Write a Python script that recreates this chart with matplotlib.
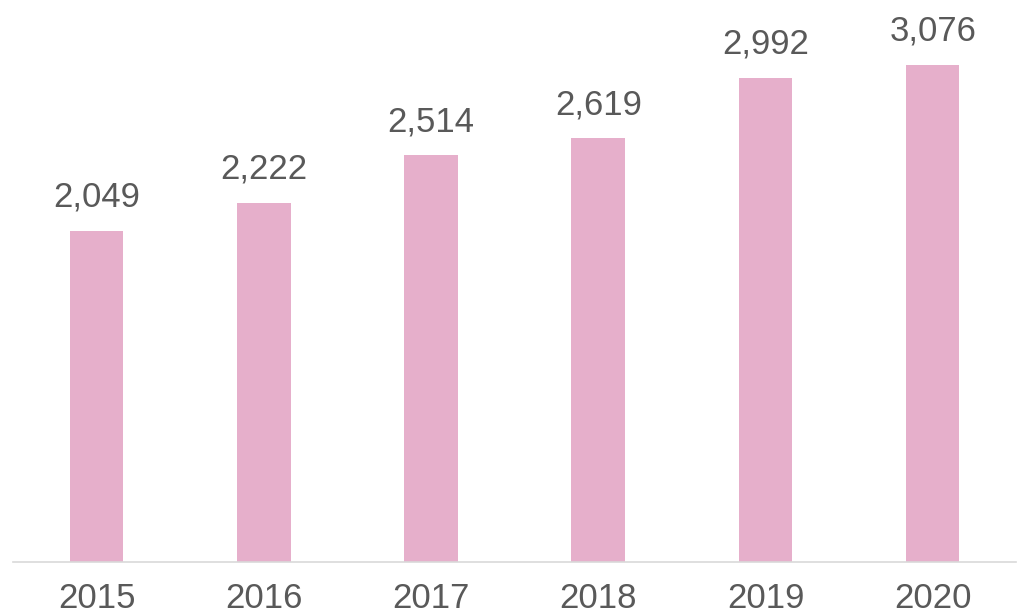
import matplotlib.pyplot as plt

# data
years = ['2015', '2016', '2017', '2018', '2019', '2020']
values = [2049, 2222, 2514, 2619, 2992, 3076]

plt.rcParams['font.family'] = ['Liberation Sans', 'DejaVu Sans']

fig = plt.figure(figsize=(10.28, 6.15), dpi=100)
ax = fig.add_axes([0.0126, 0.0862, 0.976, 0.9138])

x = range(len(years))
ax.bar(x, values, width=0.32, color='#E6AFCB')

for xi, v in zip(x, values):
    ax.annotate(f'{v:,}', (xi, v), xytext=(0, 17.5), textcoords='offset points',
                ha='center', va='baseline', fontsize=25, color='#595959')

ax.set_xlim(-0.5, 5.5)
ax.set_ylim(0, 3475)
ax.set_xticks(list(x))
ax.set_xticklabels(years, fontsize=25, color='#595959')
ax.tick_params(axis='x', length=0, pad=14.5)
ax.set_yticks([])
for s in ['top', 'left', 'right']:
    ax.spines[s].set_visible(False)
ax.spines['bottom'].set_color('#D9D9D9')
ax.spines['bottom'].set_linewidth(1.2)

fig.savefig('out.png', dpi=100)
